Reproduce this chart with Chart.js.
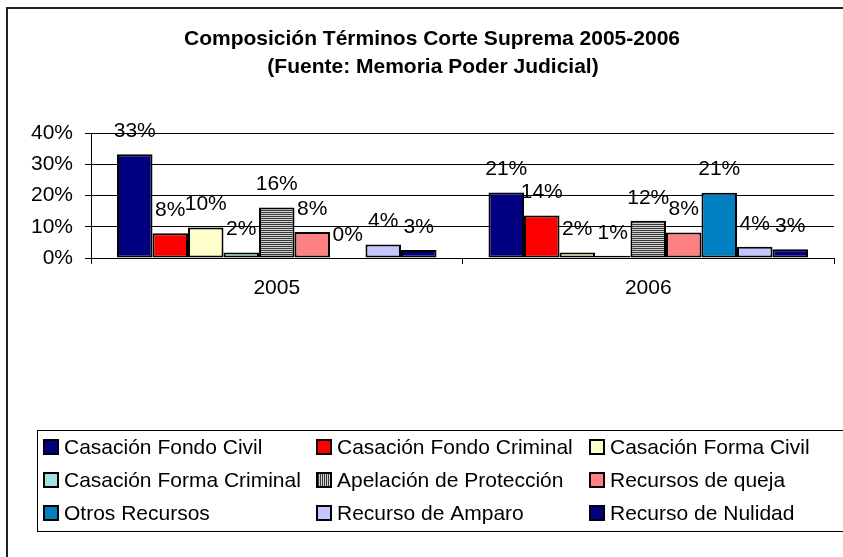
<!DOCTYPE html>
<html>
<head>
<meta charset="utf-8">
<title>Composición Términos Corte Suprema 2005-2006</title>
<script src="https://cdn.jsdelivr.net/npm/chart.js@4.4.1/dist/chart.umd.min.js"></script>
<style>
  body { margin: 0; background: #fff; }
  canvas { display: block; }
</style>
</head>
<body>
<canvas id="termChart" width="843" height="557"></canvas>
<script>
// Data (percent of total terms)
const years = ['2005', '2006'];
const seriesNames = [
  'Casación Fondo Civil', 'Casación Fondo Criminal', 'Casación Forma Civil',
  'Casación Forma Criminal', 'Apelación de Protección', 'Recursos de queja',
  'Otros Recursos', 'Recurso de Amparo', 'Recurso de Nulidad'
];
const fondoCivil = [33.2, 21.0];
const fondoCriminal = [7.9, 13.6];
const formaCivil = [9.8, 1.8];
const formaCriminal = [1.8, 0.7];
const apelacionProteccion = [16.2, 11.9];
const recursosQueja = [8.3, 8.2];
const otrosRecursos = [0, 20.9];
const recursoAmparo = [4.3, 3.6];
const recursoNulidad = [2.6, 2.8];
const yTicks = [0, 10, 20, 30, 40];

// striped fill for "Apelación de Protección"
function stripes(vertical) {
  const c = document.createElement('canvas');
  c.width = vertical ? 2 : 1;
  c.height = vertical ? 1 : 2;
  const g = c.getContext('2d');
  ['#3a3a3a', '#d0d0d0'].forEach((col, i) => {
    g.fillStyle = col;
    if (vertical) g.fillRect(i, 0, 1, 1); else g.fillRect(0, i, 1, 1);
  });
  return g.createPattern(c, 'repeat');
}

const seriesValues = [fondoCivil, fondoCriminal, formaCivil, formaCriminal,
  apelacionProteccion, recursosQueja, otrosRecursos, recursoAmparo, recursoNulidad];
const seriesColors = ['#000080', '#ff0000', '#ffffcc', '#a4dede', stripes(false),
  '#ff8080', '#0080c0', '#c4c4ff', '#000080'];
const legendSwatch = seriesColors.slice();
legendSwatch[4] = stripes(true);

const font = "'Liberation Sans', Arial, sans-serif";

// frame + title
const framePlugin = {
  id: 'frame',
  beforeDraw(chart) {
    const ctx = chart.ctx;
    ctx.save();
    ctx.fillStyle = '#fff';
    ctx.fillRect(0, 0, chart.width, chart.height);
    ctx.strokeStyle = '#222';
    ctx.lineWidth = 2;
    ctx.strokeRect(7, 8, 1000, 1000);
    ctx.fillStyle = '#000';
    ctx.font = 'bold 21px ' + font;
    ctx.textAlign = 'center';
    ctx.textBaseline = 'middle';
    ctx.fillText('Composición Términos Corte Suprema 2005-2006', 432, 39);
    ctx.fillText('(Fuente: Memoria Poder Judicial)', 433, 67);
    ctx.restore();
  }
};

// percent labels above every bar
const labelPlugin = {
  id: 'barLabels',
  afterDatasetsDraw(chart) {
    const ctx = chart.ctx;
    ctx.save();
    ctx.fillStyle = '#000';
    ctx.font = '21px ' + font;
    ctx.textAlign = 'center';
    ctx.textBaseline = 'middle';
    chart.data.datasets.forEach((ds, i) => {
      chart.getDatasetMeta(i).data.forEach((bar, j) => {
        ctx.fillText(Math.round(ds.data[j]) + '%', bar.x, bar.y - 23);
      });
    });
    ctx.restore();
  }
};

// boxed legend, 3 columns
const legendPlugin = {
  id: 'boxLegend',
  afterDraw(chart) {
    const ctx = chart.ctx;
    ctx.save();
    ctx.lineWidth = 1;
    ctx.strokeStyle = '#000';
    ctx.strokeRect(37.5, 430.5, 1000, 101);
    ctx.font = '21px ' + font;
    ctx.textBaseline = 'middle';
    chart.data.datasets.forEach((ds, i) => {
      const x = 44 + (i % 3) * 273;
      const y = 447 + Math.floor(i / 3) * 33;
      ctx.fillStyle = legendSwatch[i];
      ctx.fillRect(x, y - 7, 14, 14);
      ctx.strokeStyle = '#000';
      ctx.lineWidth = 2;
      ctx.strokeRect(x, y - 7, 14, 14);
      ctx.fillStyle = '#000';
      ctx.fillText(ds.label, x + 20, y + 1);
    });
    ctx.restore();
  }
};

const ctx = document.getElementById('termChart').getContext('2d');
new Chart(ctx, {
  type: 'bar',
  data: {
    labels: years,
    datasets: seriesNames.map((name, i) => ({
      label: name,
      data: seriesValues[i],
      backgroundColor: seriesColors[i],
      borderColor: '#000',
      borderWidth: 2,
      borderSkipped: false,
      categoryPercentage: 0.86,
      barPercentage: 1
    }))
  },
  options: {
    responsive: false,
    animation: false,
    devicePixelRatio: 1,
    layout: { padding: { top: 133, left: 0, right: 9, bottom: 259 } },
    plugins: {
      legend: { display: false },
      title: { display: false },
      tooltip: { enabled: false }
    },
    scales: {
      x: {
        grid: { drawOnChartArea: false, drawTicks: true, tickLength: 6, color: '#000' },
        border: { color: '#000', width: 1 },
        ticks: { color: '#000', font: { family: font, size: 21 }, padding: 12 },
        afterFit(axis) { axis.height = 40; }
      },
      y: {
        min: yTicks[0],
        max: yTicks[yTicks.length - 1],
        afterBuildTicks(axis) { axis.ticks = yTicks.map(v => ({ value: v })); },
        grid: { color: '#000', tickLength: 6 },
        border: { color: '#000', width: 1 },
        ticks: {
          color: '#000',
          font: { family: font, size: 21 },
          padding: 12,
          callback: v => v + '%'
        },
        afterFit(axis) { axis.width = 91; }
      }
    }
  },
  plugins: [framePlugin, labelPlugin, legendPlugin]
});
</script>
</body>
</html>
